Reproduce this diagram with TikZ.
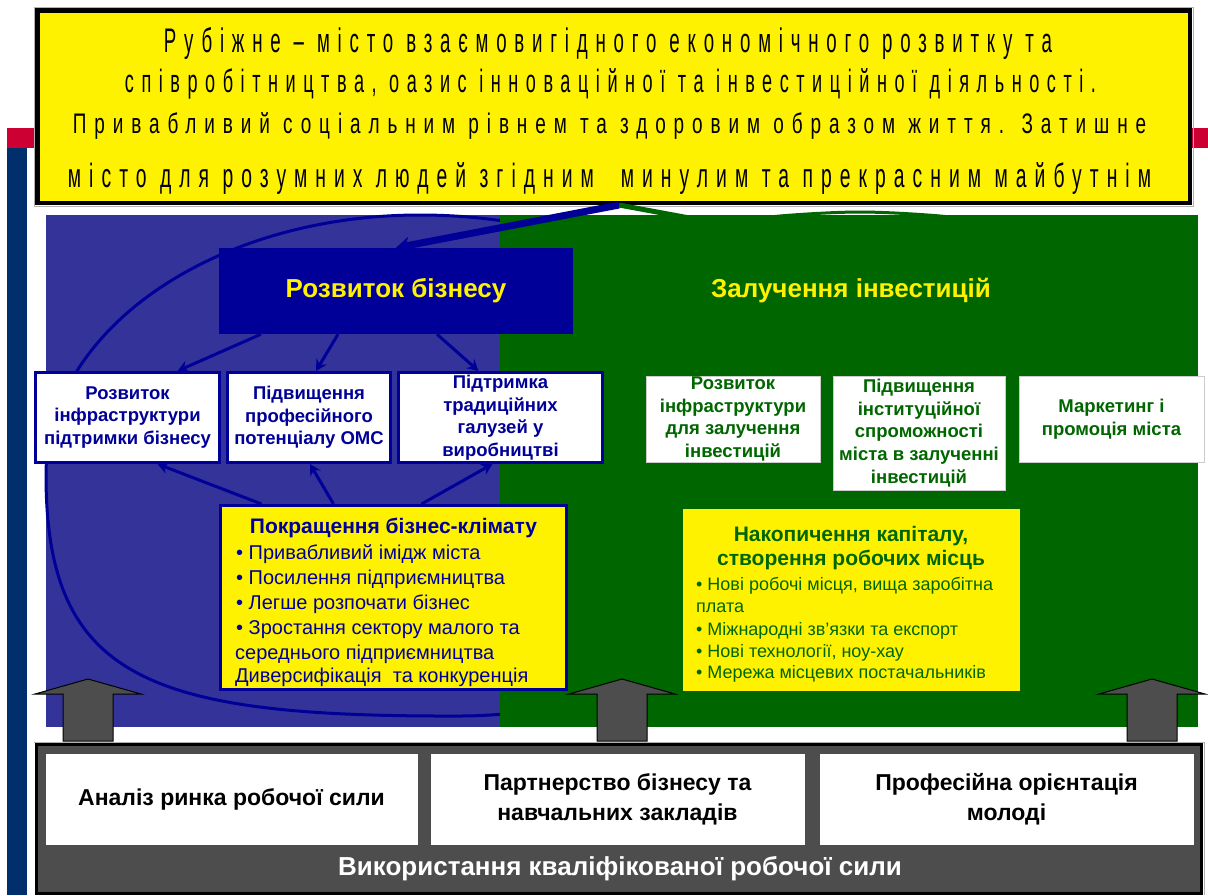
\documentclass[tikz,border=0pt]{standalone}
\usepackage{fontspec}
\setmainfont{Liberation Sans}
\newfontfamily\spacedfont[FakeStretch=0.6,LetterSpace=25]{Liberation Sans}
\usetikzlibrary{arrows.meta}
\definecolor{navyA}{RGB}{0,0,153}
\definecolor{bluepanel}{RGB}{51,51,153}
\definecolor{greenpanel}{RGB}{0,102,0}
\definecolor{grayA}{RGB}{77,77,77}
\definecolor{leftbar}{RGB}{0,47,108}
\definecolor{redbar}{RGB}{204,0,51}
\newcommand\fsz[2]{\fontsize{#1}{#2}\selectfont}
\tikzset{
  bbox/.style={draw=navyA, line width=3pt, fill=white, inner sep=0pt, text=navyA, align=center, font=\bfseries\fsz{18.5}{22.5}},
  gbox/.style={fill=white, draw=gray!40, line width=0.6pt, inner sep=0pt, text=greenpanel, align=center, font=\bfseries\fsz{18.5}{22.75}},
  sarr/.style={draw=navyA, line width=3pt, -{Stealth[length=11pt,width=12pt]}},
  wbox/.style={fill=white, draw=black!70, line width=1pt, inner sep=0pt, align=center, font=\bfseries\fsz{23}{30}, minimum height=92pt},
  topline/.style={anchor=base, inner sep=0pt, text=black},
  lbul/.style={anchor=base west, inner sep=0pt, text=navyA, font=\fsz{20}{24}},
  rbul/.style={anchor=base west, inner sep=0pt, text=greenpanel, font=\fsz{18}{22}},
  uparrow/.pic={\draw[fill=grayA, draw=black, line width=1pt, line join=miter]
      (-53,15) -- (0,0) -- (53,15) -- (25,15) -- (25,62) -- (-25,62) -- (-25,15) -- cycle;}
}
\begin{document}
\begin{tikzpicture}[x=1pt,y=-1pt]
\useasboundingbox (0,0) rectangle (1208,895);
% side bars
\fill[redbar] (7,128) rectangle (1208,148);
\fill[leftbar] (7,148) rectangle (27,895);
% top yellow box
\draw[gray!60, line width=1pt] (34.5,7.5) rectangle (1193,206);
\node[draw=black, line width=4.5pt, fill=yellow, minimum width=1152.5pt, minimum height=192.5pt, inner sep=0pt] (top) at (613.5,106.5) {};
\node[topline] (t1) at (608,52) {\resizebox{888pt}{25pt}{\spacedfont Рубіжне – місто взаємовигідного економічного розвитку та}};
\node[topline] (t2) at (610.5,92) {\resizebox{971pt}{24pt}{\spacedfont співробітництва, оазис інноваційної та інвестиційної діяльності.}};
\node[topline] (t3) at (609.5,133) {\resizebox{1073pt}{21pt}{\spacedfont Привабливий соціальним рівнем та здоровим образом життя. Затишне}};
\node[topline] (t4) at (609.5,187) {\resizebox{1083pt}{25pt}{\spacedfont місто для розумних людей згідним \ минулим та прекрасним майбутнім}};
% panels
\fill[bluepanel] (46,215) rectangle (500,727);
\draw[navyA, line width=3pt] (420,215) .. controls (213,215) and (46,331) .. (46,475)
   .. controls (46,680) and (150,717) .. (460,716)
   .. controls (647,716) and (800,603) .. (800,465)
   .. controls (800,327) and (630,215) .. (420,215) -- cycle;
\draw[greenpanel, line width=3pt] plot[smooth] coordinates {(700,226) (780,216) (860,212) (940,216) (1020,226)};
\fill[greenpanel] (500,215) rectangle (1198,727);
% main headings
\node[fill=navyA, minimum width=354pt, minimum height=86pt, inner sep=0pt, text=yellow, font=\bfseries\fsz{26}{30}] (rb) at (396,291) {Розвиток бізнесу};
\node[fill=greenpanel, minimum width=354pt, minimum height=86pt, inner sep=0pt, text=yellow, font=\bfseries\fsz{26}{30}] (zi) at (851,291) {Залучення інвестицій};
\coordinate (apex) at (619,205);
\draw[greenpanel, line width=5pt] (apex) -- (zi.north);
\draw[navyA, line width=7pt, -{Stealth[length=14pt,width=17pt]}] (apex) -- (rb.north);
% blue boxes
\node[bbox, minimum width=184pt, minimum height=90pt] (b1) at (127.5,417.5) {Розвиток\\інфраструктури\\підтримки бізнесу};
\node[bbox, minimum width=163pt, minimum height=90pt] (b2) at (309,417.5) {Підвищення\\професійного\\потенціалу ОМС};
\node[bbox, minimum width=204pt, minimum height=90pt] (b3) at (500.5,417.5) {Підтримка\\традиційних\\галузей у\\виробництві};
% green boxes
\node[gbox, minimum width=174pt, minimum height=86pt] (b4) at (733,419) {Розвиток\\інфраструктури\\для залучення\\інвестицій};
\node[gbox, minimum width=172pt, minimum height=114pt] (b5) at (919,433) {Підвищення\\інституційної\\спроможності\\міста в залученні\\інвестицій};
\node[gbox, minimum width=185pt, minimum height=86pt] (b6) at (1111.5,419) {Маркетинг і\\промоція міста};
% business climate box
\node[draw=navyA, line width=3pt, fill=yellow, minimum width=346pt, minimum height=184pt, inner sep=0pt] (clim) at (393.5,597.5) {};
\node[anchor=base, inner sep=0pt, text=navyA, font=\bfseries\fsz{21}{24}] (climt) at (393.5,533) {Покращення бізнес-клімату};
\node[lbul] (cb1) at (236,559) {• Привабливий імідж міста};
\node[lbul] (cb2) at (236,584) {• Посилення підприємництва};
\node[lbul] (cb3) at (236,609) {• Легше розпочати бізнес};
\node[lbul] (cb4) at (236,634) {• Зростання сектору малого та};
\node[lbul] (cb5) at (235,659) {середнього підприємництва};
\node[lbul] (cb6) at (235,682) {Диверсифікація \ та конкуренція};
% arrows between blue nodes
\draw[sarr] ([xshift=-135pt]rb.south) -- ([xshift=50pt]b1.north);
\draw[sarr] ([xshift=-58pt]rb.south) -- ([xshift=7pt]b2.north);
\draw[sarr] ([xshift=41pt]rb.south) -- ([xshift=-22pt]b3.north);
\draw[sarr] ([xshift=-132pt]clim.north) -- ([xshift=30pt]b1.south);
\draw[sarr] ([xshift=-60pt]clim.north) -- ([xshift=1pt]b2.south);
\draw[sarr] ([xshift=28pt]clim.north) -- ([xshift=-8pt]b3.south);
% capital box
\node[fill=yellow, minimum width=337pt, minimum height=182pt, inner sep=0pt] (cap) at (851.5,600) {};
\node[anchor=base, inner sep=0pt, text=greenpanel, font=\bfseries\fsz{21}{24}] (capt1) at (851,541) {Накопичення капіталу,};
\node[anchor=base, inner sep=0pt, text=greenpanel, font=\bfseries\fsz{21}{24}] (capt2) at (851,565) {створення робочих місць};
\node[rbul] (kb1) at (696,590) {• Нові робочі місця, вища заробітна};
\node[rbul] (kb2) at (696,612) {плата};
\node[rbul] (kb3) at (696,635) {• Міжнародні зв'язки та експорт};
\node[rbul] (kb4) at (696,657) {• Нові технології, ноу-хау};
\node[rbul] (kb5) at (696,678) {• Мережа місцевих постачальників};
% bottom box
\draw[gray!60, line width=1pt] (34,742) -- (1204.5,742) -- (1204.5,895);
\node[fill=grayA, draw=black, line width=3pt, minimum width=1165pt, minimum height=149pt, inner sep=0pt] (wf) at (619,819) {};
\node[wbox, minimum width=373pt] (w1) at (231.5,799) {Аналіз ринка робочої сили};
\node[wbox, minimum width=375pt] (w2) at (617.5,799) {Партнерство бізнесу та\\навчальних закладів};
\node[wbox, minimum width=375pt] (w3) at (1006.5,799) {Професійна орієнтація\\молоді};
\node[inner sep=0pt, text=white, font=\bfseries\fsz{26}{30}] (wft) at (620,869) {Використання кваліфікованої робочої сили};
% block arrows
\pic at (88,679) {uparrow};
\pic at (622,679) {uparrow};
\pic at (1152,679) {uparrow};
\end{tikzpicture}
\end{document}
